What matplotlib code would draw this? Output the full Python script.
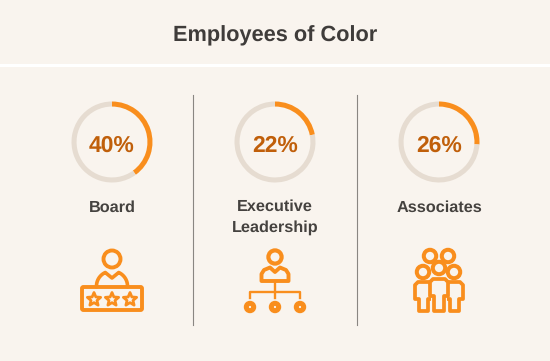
import numpy as np
import matplotlib
matplotlib.use('Agg')
import matplotlib.pyplot as plt
from matplotlib.patches import Circle, Polygon, FancyBboxPatch, Rectangle

plt.rcParams['font.family'] = ['Liberation Sans', 'DejaVu Sans']
plt.rcParams['text.hinting'] = 'no_hinting'
plt.rcParams['text.kerning_factor'] = 0

W, H = 550, 361
BG = '#f9f4ee'
ORANGE = '#f98e1d'
RING = '#e6dcd1'
PCT = '#c05f0a'
DARK = '#45423f'

title = 'Employees of Color'
labels = ['Board', 'Executive\nLeadership', 'Associates']
shares = [40, 22, 26]
centers_x = [112, 275, 439]

fig = plt.figure(figsize=(W / 100, H / 100), dpi=100, facecolor=BG)

# overlay in pixel coordinates for text and icons
ax = fig.add_axes([0, 0, 1, 1])
ax.set_xlim(0, W)
ax.set_ylim(H, 0)
ax.axis('off')

ax.add_patch(Rectangle((0, 64), W, 3, color='white', lw=0))
ax.text(275, 36, title, ha='center', va='center', fontsize=15.7, fontweight='bold', color='#3f3c3a')

for x in [193, 357]:
    ax.plot([x, x], [95, 325], color='#8a8682', lw=0.8)

# donuts
for cx, share, label in zip(centers_x, shares, labels):
    r = 40.5
    dax = fig.add_axes([(cx - r) / W, 1 - (142 + r) / H, 2 * r / W, 2 * r / H])
    dax.pie([share, 100 - share], colors=[ORANGE, RING], startangle=90, counterclock=False,
            radius=1, wedgeprops=dict(width=0.125, lw=0))
    dax.set_xlim(-1, 1)
    dax.set_ylim(-1, 1)
    dax.patch.set_alpha(0)
    ax.text(cx, 145.5, f'{share}%', ha='center', va='center', fontsize=16.5, fontweight='bold', color=PCT)
    ax.text(cx, 217 if '\n' in label else 207.5, label, ha='center', va='center', fontsize=11.7,
            fontweight='bold', color=DARK, linespacing=1.5)


def ring(x, y, r, lw=2.6):
    ax.add_patch(Circle((x, y), r, fc='none', ec=ORANGE, lw=lw))


def line(pts, lw=2.6, closed=False):
    pts = np.array(pts)
    ax.add_patch(Polygon(pts, closed=closed, fc='none', ec=ORANGE, lw=lw, joinstyle='round', capstyle='round'))


def star(x, y, r):
    ang = np.pi / 2 + np.arange(10) * np.pi / 5
    rad = np.where(np.arange(10) % 2 == 0, r, r * 0.45)
    line(np.column_stack([x + rad * np.cos(ang), y - rad * np.sin(ang)]), lw=2.0, closed=True)


# board icon
ring(112, 259, 8.5, lw=2.8)
t = np.linspace(np.pi, np.pi / 2 + 0.45, 12)
left = [(112 + 15.5 * np.cos(a), 286 - 15 * np.sin(a)) for a in t]
right = [(224 - p[0], p[1]) for p in reversed(left)]
line([(96.5, 287)] + left + [(112, 278)] + right + [(127.5, 287)], lw=2.6)
ax.add_patch(FancyBboxPatch((82, 287), 60, 23, boxstyle='round,pad=0,rounding_size=1.5',
                            fc='none', ec=ORANGE, lw=2.8))
for sx in [94, 112, 130]:
    star(sx, 299.5, 7)

# executive icon
ring(275, 257, 6.6, lw=3.0)
verts = [(261.5, 281), (261.5, 274), (264, 270), (270, 267.5), (275, 272), (280, 267.5),
         (286, 270), (288.5, 274), (288.5, 281)]
line(verts, lw=2.8, closed=True)
ax.plot([275, 275], [282, 298], color=ORANGE, lw=1.7)
ax.plot([250, 250, 300, 300], [298, 292, 292, 298], color=ORANGE, lw=1.7)
for x in [250, 275, 300]:
    ring(x, 307, 3.7, lw=3.6)

# associates icon
for x, y in [(430, 256), (448, 256), (423, 272), (439, 268), (454, 272)]:
    ring(x, y, 6.2, lw=2.9)


def person(x0, x1, top, bottom, z=2):
    pts = [(x0, top + 3), (x0 + 3, top), (x1 - 3, top), (x1, top + 3), (x1, top + 17),
           (x1 - 4, top + 17), (x1 - 4, bottom), (x0 + 4, bottom), (x0 + 4, top + 17), (x0, top + 17)]
    ax.add_patch(Polygon(pts, closed=True, fc='none', ec=ORANGE, lw=2.7, joinstyle='round', zorder=z))


person(415, 432, 282, 311)
person(446, 463, 282, 311)
ax.add_patch(Rectangle((431, 282), 16, 32, fc=BG, ec='none', zorder=3))
person(430, 448, 279, 311, z=4)

fig.savefig('out.png', dpi=100, facecolor=BG)
